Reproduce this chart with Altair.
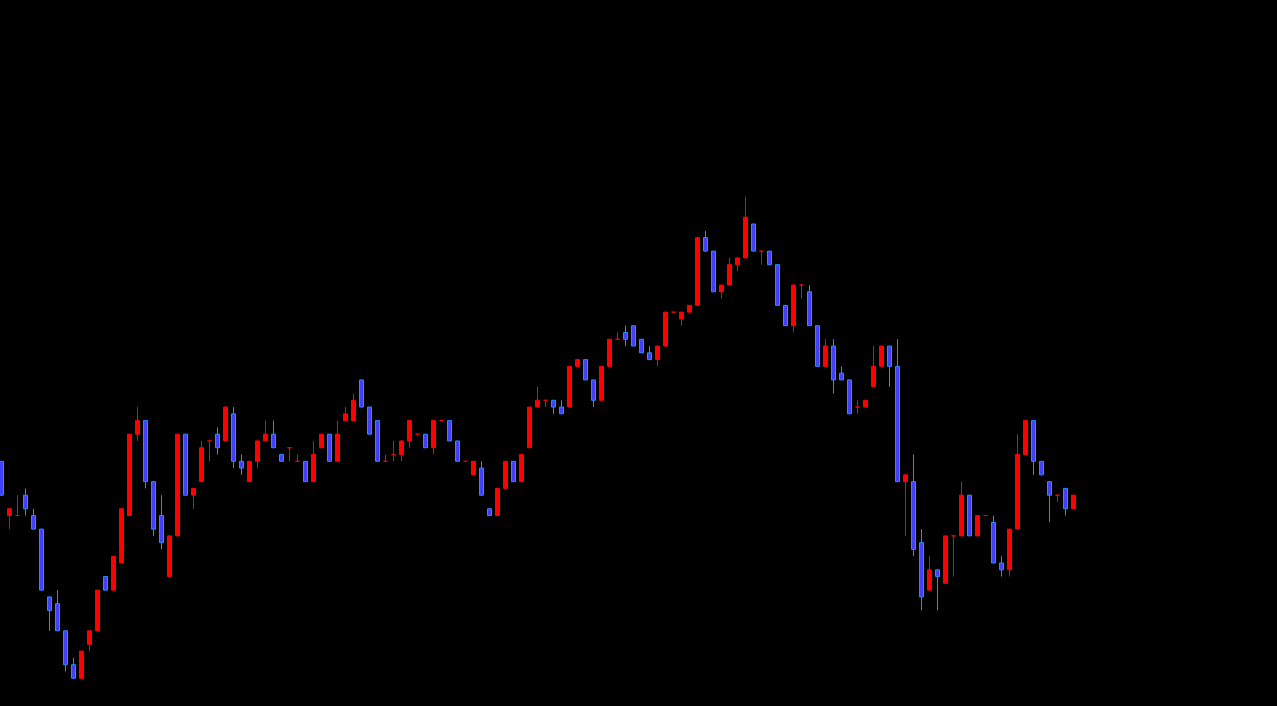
import altair as alt
import pandas as pd

# --- make the page itself black (no white 8px body margin) ---
try:
    import altair.utils.html as _ah
    _std_tpl = _ah.TEMPLATES["standard"]

    class _BlackPage:
        def render(self, *a, **k):
            html = _std_tpl.render(*a, **k)
            return html.replace(
                "<style>",
                "<style>\n    html, body { margin: 0; padding: 0; background: #000; overflow: hidden; }",
                1,
            )

    _ah.TEMPLATES["standard"] = _BlackPage()
except Exception:
    pass

open_ = [150.00, 149.92, 149.92, 149.95, 149.92, 149.90, 149.80, 149.79, 149.75, 149.70,
         149.68, 149.73, 149.75, 149.83, 149.81, 149.85, 149.92, 150.04, 150.06, 149.97,
         149.92, 149.83, 149.89, 150.04, 149.95, 149.97, 150.03, 150.04, 150.03, 150.07,
         150.00, 149.97, 150.00, 150.03, 150.04, 150.01, 150.02, 150.00, 150.00, 149.97,
         150.02, 150.04, 150.00, 150.06, 150.06, 150.12, 150.08, 150.06, 150.00, 150.01,
         150.01, 150.03, 150.04, 150.04, 150.02, 150.06, 150.06, 150.03, 150.00, 149.98,
         149.99, 149.93, 149.92, 149.96, 150.00, 149.97, 150.02, 150.08, 150.09, 150.09,
         150.08, 150.08, 150.14, 150.15, 150.12, 150.09, 150.14, 150.18, 150.19, 150.20,
         150.18, 150.16, 150.15, 150.17, 150.22, 150.21, 150.22, 150.23, 150.33, 150.31,
         150.25, 150.26, 150.29, 150.30, 150.35, 150.31, 150.31, 150.29, 150.23, 150.20,
         150.26, 150.25, 150.20, 150.14, 150.17, 150.13, 150.12, 150.08, 150.08, 150.11,
         150.14, 150.17, 150.14, 149.97, 149.97, 149.88, 149.81, 149.84, 149.82, 149.89,
         149.89, 149.95, 149.89, 149.92, 149.91, 149.85, 149.84, 149.90, 150.01, 150.06,
         150.00, 149.97, 149.95, 149.96, 149.93]

high = [150.00, 149.93, 149.95, 149.96, 149.93, 149.90, 149.80, 149.81, 149.75, 149.71,
        149.72, 149.75, 149.81, 149.83, 149.86, 149.93, 150.04, 150.08, 150.06, 149.97,
        149.95, 149.89, 150.04, 150.04, 149.96, 150.03, 150.03, 150.05, 150.08, 150.08,
        150.01, 150.00, 150.03, 150.06, 150.06, 150.01, 150.02, 150.01, 150.00, 150.03,
        150.04, 150.04, 150.06, 150.08, 150.10, 150.12, 150.08, 150.06, 150.01, 150.03,
        150.03, 150.06, 150.04, 150.04, 150.06, 150.06, 150.06, 150.03, 150.00, 150.00,
        150.00, 149.93, 149.96, 150.00, 150.00, 150.01, 150.08, 150.11, 150.09, 150.09,
        150.09, 150.14, 150.15, 150.15, 150.12, 150.14, 150.18, 150.19, 150.20, 150.20,
        150.18, 150.17, 150.17, 150.22, 150.22, 150.22, 150.23, 150.33, 150.34, 150.31,
        150.26, 150.30, 150.30, 150.39, 150.35, 150.31, 150.31, 150.29, 150.23, 150.26,
        150.26, 150.26, 150.20, 150.18, 150.18, 150.14, 150.12, 150.09, 150.09, 150.17,
        150.17, 150.17, 150.18, 149.98, 150.01, 149.90, 149.86, 149.84, 149.89, 149.89,
        149.97, 149.95, 149.92, 149.92, 149.92, 149.86, 149.90, 150.04, 150.06, 150.06,
        150.00, 149.97, 149.95, 149.96, 149.95]

low = [149.95, 149.90, 149.92, 149.92, 149.90, 149.81, 149.75, 149.75, 149.69, 149.68,
       149.68, 149.72, 149.75, 149.81, 149.81, 149.85, 149.92, 150.03, 149.96, 149.89,
       149.87, 149.83, 149.89, 149.95, 149.93, 149.97, 150.00, 150.01, 150.03, 149.99,
       149.98, 149.97, 149.99, 150.03, 150.02, 150.00, 150.00, 150.00, 149.97, 149.97,
       150.02, 150.00, 150.00, 150.06, 150.06, 150.08, 150.04, 150.00, 150.00, 150.00,
       150.00, 150.02, 150.04, 150.02, 150.01, 150.06, 150.03, 150.00, 150.00, 149.98,
       149.95, 149.92, 149.92, 149.96, 149.97, 149.97, 150.02, 150.08, 150.08, 150.07,
       150.07, 150.08, 150.14, 150.12, 150.08, 150.09, 150.14, 150.18, 150.17, 150.17,
       150.16, 150.15, 150.14, 150.17, 150.22, 150.20, 150.22, 150.23, 150.31, 150.25,
       150.24, 150.26, 150.28, 150.30, 150.31, 150.29, 150.29, 150.23, 150.20, 150.19,
       150.24, 150.20, 150.14, 150.14, 150.10, 150.12, 150.07, 150.07, 150.08, 150.11,
       150.14, 150.11, 149.97, 149.89, 149.86, 149.78, 149.81, 149.78, 149.82, 149.83,
       149.89, 149.89, 149.89, 149.92, 149.85, 149.83, 149.83, 149.90, 150.01, 149.98,
       149.98, 149.91, 149.94, 149.92, 149.93]

close = [149.95, 149.93, 149.92, 149.93, 149.90, 149.81, 149.78, 149.75, 149.70, 149.68,
         149.72, 149.75, 149.81, 149.81, 149.86, 149.93, 150.04, 150.06, 149.97, 149.90,
         149.88, 149.89, 150.04, 149.95, 149.96, 150.02, 150.03, 150.02, 150.08, 150.00,
         149.99, 150.00, 150.03, 150.04, 150.02, 150.00, 150.02, 150.00, 149.97, 150.01,
         150.04, 150.00, 150.04, 150.07, 150.09, 150.08, 150.04, 150.00, 150.00, 150.01,
         150.03, 150.06, 150.04, 150.02, 150.06, 150.06, 150.03, 150.00, 150.00, 150.00,
         149.95, 149.92, 149.96, 150.00, 149.97, 150.01, 150.08, 150.09, 150.09, 150.08,
         150.07, 150.14, 150.15, 150.12, 150.09, 150.14, 150.18, 150.18, 150.18, 150.17,
         150.16, 150.15, 150.17, 150.22, 150.22, 150.22, 150.23, 150.33, 150.31, 150.25,
         150.26, 150.29, 150.30, 150.36, 150.31, 150.31, 150.29, 150.23, 150.20, 150.26,
         150.26, 150.20, 150.14, 150.17, 150.12, 150.12, 150.07, 150.08, 150.09, 150.14,
         150.17, 150.14, 149.97, 149.98, 149.87, 149.80, 149.84, 149.83, 149.89, 149.89,
         149.95, 149.89, 149.92, 149.92, 149.85, 149.84, 149.90, 150.01, 150.06, 150.00,
         149.98, 149.95, 149.95, 149.93, 149.95]

bar = list(range(len(open_)))

df = pd.DataFrame({"bar": bar, "open": open_, "high": high, "low": low, "close": close})

W, H = 1277, 706
x_scale = alt.Scale(domain=[-0.1875, 159.4375], nice=False, zero=False)
y_scale = alt.Scale(domain=[149.63909, 150.68038], nice=False, zero=False)

is_down = "datum.close < datum.open"

base = alt.Chart(df)

wicks = base.mark_rule(strokeWidth=1).encode(
    x=alt.X("bar:Q", scale=x_scale, axis=None),
    y=alt.Y("high:Q", scale=y_scale, axis=None),
    y2="low:Q",
    color=alt.condition(is_down, alt.value("#1e90ff"), alt.value("#ff0000")),
)

bodies = base.transform_calculate(
    left="datum.bar - 0.25", right="datum.bar + 0.25"
).mark_rect(strokeWidth=1).encode(
    x=alt.X("left:Q", scale=x_scale, axis=None),
    x2="right:Q",
    y=alt.Y("open:Q", scale=y_scale, axis=None),
    y2="close:Q",
    fill=alt.condition(is_down, alt.value("#4040ff"), alt.value("#ff0000")),
    stroke=alt.condition(is_down, alt.value("#1e90ff"), alt.value("#ff0000")),
)

chart = alt.layer(wicks, bodies).properties(
    width=W,
    height=H,
    background="#000000",
    padding=0,
    autosize=alt.AutoSizeParams(type="none"),
).configure_view(strokeWidth=0)

chart.save("out.html", embed_options={"renderer": "svg", "actions": False})
